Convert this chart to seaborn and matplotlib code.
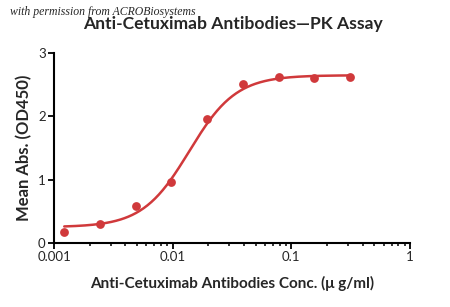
import numpy as np
import pandas as pd
import matplotlib
matplotlib.use("Agg")
import matplotlib.pyplot as plt
import seaborn as sns

# Data
conc = [0.00122, 0.00244, 0.00488, 0.00977, 0.0195, 0.0391, 0.0781, 0.156, 0.3125]
od450 = [0.18, 0.30, 0.59, 0.97, 1.96, 2.51, 2.63, 2.61, 2.63]

# 4PL fit parameters estimated from the drawn curve
fit_bottom = 0.25
fit_top = 2.65
fit_ec50 = 0.0138
fit_hill = 2.2

x_ticks = [0.001, 0.01, 0.1, 1]
x_tick_labels = ["0.001", "0.01", "0.1", "1"]
y_ticks = [0, 1, 2, 3]

sns.set_theme(style="ticks")
plt.rcParams['font.family'] = ['Lato', 'DejaVu Sans']

red = "#d0393b"

fig = plt.figure(figsize=(4.5, 3.07), dpi=100)
ax = fig.add_axes([0.12, 0.2085, 0.791, 0.6185])

xc = np.logspace(np.log10(conc[0]), np.log10(conc[-1]), 300)
yc = fit_bottom + (fit_top - fit_bottom) / (1 + (fit_ec50 / xc) ** fit_hill)
curve = pd.DataFrame({"x": xc, "y": yc})
pts = pd.DataFrame({"x": conc, "y": od450})

sns.lineplot(data=curve, x="x", y="y", ax=ax, color=red, linewidth=1.8)
sns.scatterplot(data=pts, x="x", y="y", ax=ax, color=red, s=40, edgecolor=red, linewidth=0, zorder=3)

ax.set_xscale("log")
ax.set_xlim(0.001, 1)
ax.set_ylim(0, 3)
ax.set_xticks(x_ticks)
ax.set_xticklabels(x_tick_labels)
ax.set_yticks(y_ticks)
sns.despine(ax=ax)
for s in ["left", "bottom"]:
    ax.spines[s].set_linewidth(1.5)
    ax.spines[s].set_color("black")
ax.tick_params(axis="both", which="major", length=4, width=1.3, labelsize=9.5, color="black", pad=2)
ax.tick_params(axis="x", which="minor", length=2.5, width=1.1, color="black")

ax.set_xlabel("Anti-Cetuximab Antibodies Conc. (\u03bc g/ml)", fontsize=11, fontweight="bold", labelpad=9)
ax.set_ylabel("Mean Abs. (OD450)", fontsize=12, fontweight="bold", labelpad=4)
fig.text(0.518, 0.922, "Anti-Cetuximab Antibodies\u2014PK Assay", ha="center", va="center",
         fontsize=12.6, fontweight="bold")
fig.text(0.022, 0.962, "with permission from ACROBiosystems", ha="left", va="center",
         fontsize=8.5, style="italic", family=["Liberation Serif", "DejaVu Serif"])

fig.savefig("out.png", dpi=100)
